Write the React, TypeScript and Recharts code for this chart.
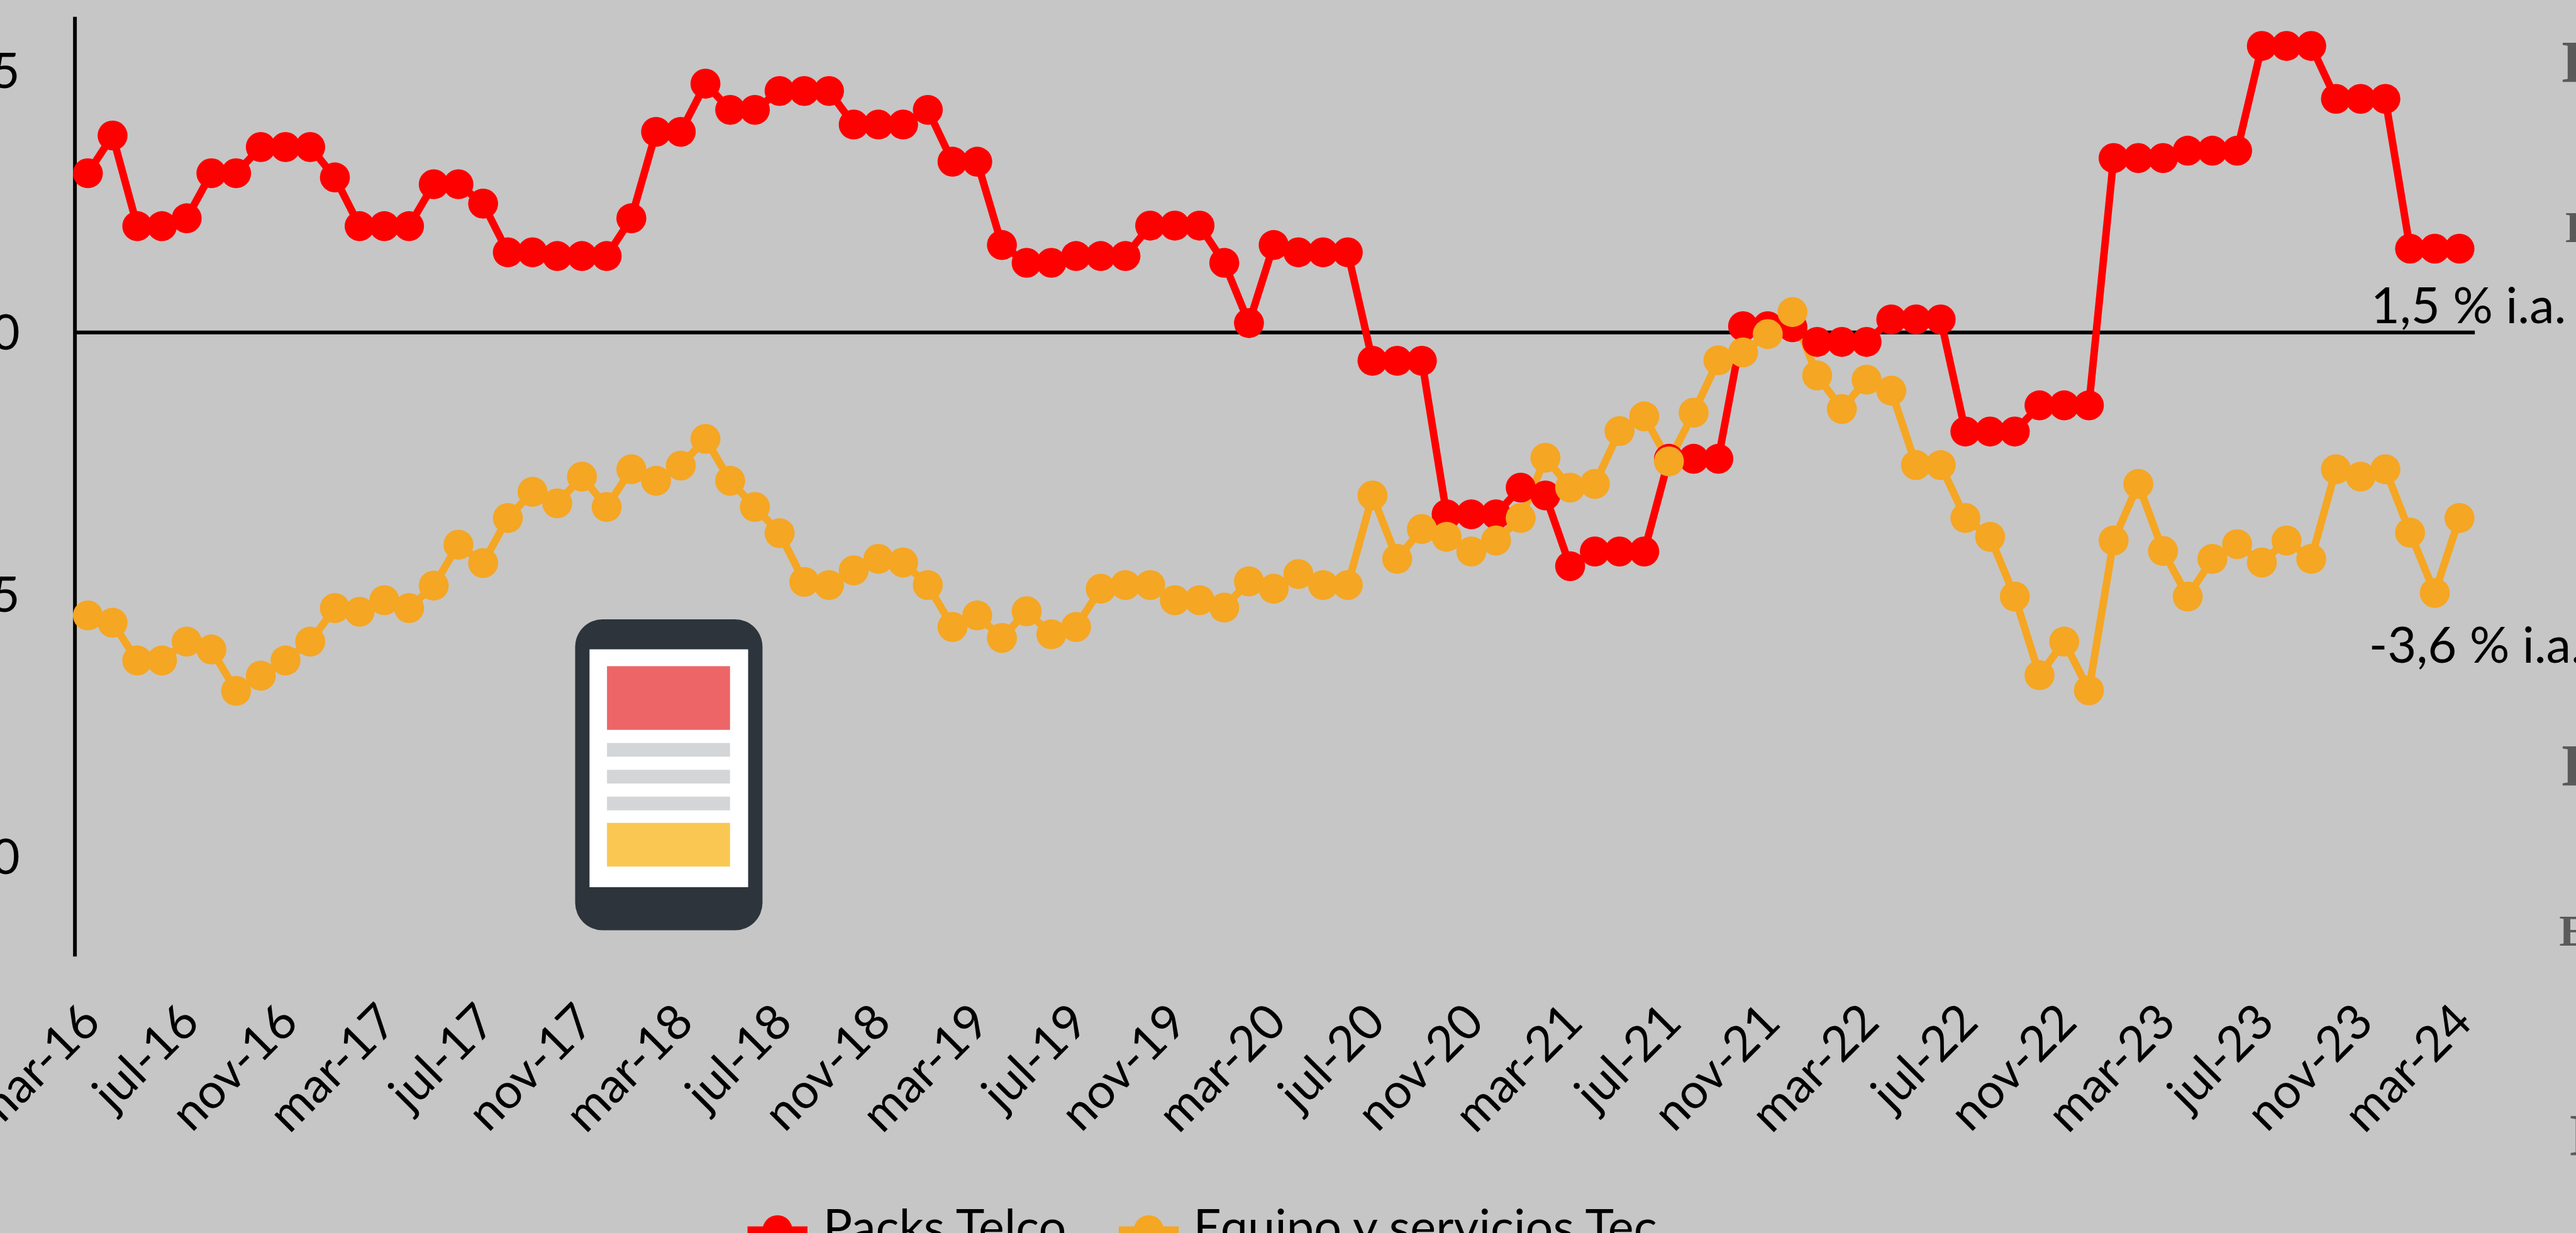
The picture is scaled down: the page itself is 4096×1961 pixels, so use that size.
import React from "react";
import { LineChart, Line, XAxis, YAxis, ReferenceLine, Legend } from "recharts";

const W = 4096;
const H = 1961;
const S = W / 4125;
const FONT = "Lato";
const FS = 78 * S;

const months = [
  "mar-16", "abr-16", "may-16", "jun-16", "jul-16", "ago-16", "sep-16", "oct-16", "nov-16", "dic-16",
  "ene-17", "feb-17", "mar-17", "abr-17", "may-17", "jun-17", "jul-17", "ago-17", "sep-17", "oct-17", "nov-17", "dic-17",
  "ene-18", "feb-18", "mar-18", "abr-18", "may-18", "jun-18", "jul-18", "ago-18", "sep-18", "oct-18", "nov-18", "dic-18",
  "ene-19", "feb-19", "mar-19", "abr-19", "may-19", "jun-19", "jul-19", "ago-19", "sep-19", "oct-19", "nov-19", "dic-19",
  "ene-20", "feb-20", "mar-20", "abr-20", "may-20", "jun-20", "jul-20", "ago-20", "sep-20", "oct-20", "nov-20", "dic-20",
  "ene-21", "feb-21", "mar-21", "abr-21", "may-21", "jun-21", "jul-21", "ago-21", "sep-21", "oct-21", "nov-21", "dic-21",
  "ene-22", "feb-22", "mar-22", "abr-22", "may-22", "jun-22", "jul-22", "ago-22", "sep-22", "oct-22", "nov-22", "dic-22",
  "ene-23", "feb-23", "mar-23", "abr-23", "may-23", "jun-23", "jul-23", "ago-23", "sep-23", "oct-23", "nov-23", "dic-23",
  "ene-24", "feb-24", "mar-24",
];

const packsTelco = [
  3.04, 3.76, 2.03, 2.03, 2.18, 3.04, 3.04, 3.54, 3.54, 3.54,
  2.96, 2.03, 2.03, 2.03, 2.83, 2.83, 2.46, 1.53, 1.53, 1.46,
  1.46, 1.46, 2.18, 3.83, 3.83, 4.75, 4.25, 4.25, 4.61, 4.61,
  4.61, 3.97, 3.97, 3.97, 4.25, 3.26, 3.26, 1.67, 1.33, 1.33,
  1.46, 1.46, 1.46, 2.04, 2.04, 2.04, 1.33, 0.18, 1.67, 1.53,
  1.53, 1.53, -0.54, -0.54, -0.54, -3.47, -3.47, -3.47, -2.96, -3.11,
  -4.46, -4.18, -4.18, -4.18, -2.41, -2.41, -2.41, 0.12, 0.12, 0.1,
  -0.18, -0.18, -0.18, 0.25, 0.25, 0.25, -1.89, -1.89, -1.89, -1.39,
  -1.39, -1.39, 3.33, 3.33, 3.33, 3.47, 3.47, 3.47, 5.47, 5.47,
  5.47, 4.46, 4.46, 4.46, 1.6, 1.6, 1.6,
];

const equipoTec = [
  -5.4, -5.54, -6.26, -6.26, -5.9, -6.05, -6.84, -6.55, -6.26, -5.9,
  -5.26, -5.33, -5.11, -5.26, -4.83, -4.05, -4.4, -3.54, -3.04, -3.26,
  -2.75, -3.33, -2.61, -2.83, -2.54, -2.03, -2.83, -3.33, -3.83, -4.76,
  -4.82, -4.54, -4.32, -4.39, -4.82, -5.62, -5.4, -5.83, -5.32, -5.76,
  -5.62, -4.89, -4.82, -4.82, -5.11, -5.11, -5.25, -4.75, -4.89, -4.61,
  -4.82, -4.82, -3.11, -4.32, -3.75, -3.9, -4.18, -3.97, -3.54, -2.39,
  -2.96, -2.89, -1.88, -1.6, -2.46, -1.53, -0.53, -0.38, -0.03, 0.39,
  -0.82, -1.46, -0.9, -1.11, -2.53, -2.53, -3.54, -3.9, -5.04, -6.54,
  -5.9, -6.83, -3.97, -2.89, -4.17, -5.04, -4.32, -4.04, -4.39, -3.97,
  -4.32, -2.61, -2.75, -2.61, -3.82, -4.97, -3.54,
];

const yTicks = [5, 0, -5, -10];
const seriesNames = ["Packs Telco", "Equipo y servicios Tec"];
const seriesColors = ["#ff0000", "#f5a623"];
const endLabels = ["1,5 % i.a.", "-3,6 % i.a."];

const rows = months.map((month, i) => ({ month, packs: packsTelco[i], equipo: equipoTec[i] }));
const lastIndex = months.length - 1;

function MonthTick({ x, payload }: any) {
  const bx = x + 24 * S;
  const by = 1641 * S;
  return (
    <text x={bx} y={by} textAnchor="end" fontFamily={FONT} fontSize={FS} fill="#000" transform={`rotate(-45 ${bx} ${by})`}>
      {payload.value}
    </text>
  );
}

function endLabel(text: string, dx: number, dy: number) {
  return (props: any) => {
    if (props.index !== lastIndex) return null;
    const px = props.x ?? props.viewBox?.x;
    const py = props.y ?? props.viewBox?.y;
    return (
      <text x={px + dx * S} y={py + dy * S} fontFamily={FONT} fontSize={80 * S} fill="#000">
        {text}
      </text>
    );
  };
}

function LegendRow() {
  const markerX = [1197, 1791.5];
  const textX = [1318, 1911];
  return (
    <svg width={W} height={60} style={{ position: "absolute", left: 0, top: 1900 * S, overflow: "visible" }}>
      {seriesNames.map((name, i) => {
        const mx = markerX[i] * S;
        const ly = 70 * S;
        return (
          <g key={name}>
            <line x1={mx} x2={mx + 96 * S} y1={ly} y2={ly} stroke={seriesColors[i]} strokeWidth={12 * S} />
            <circle cx={mx + 48 * S} cy={ly} r={24 * S} fill={seriesColors[i]} />
            <text x={textX[i] * S} y={93 * S} fontFamily={FONT} fontSize={FS} fill="#000">
              {name}
            </text>
          </g>
        );
      })}
    </svg>
  );
}

function Phone() {
  const r = (x0: number, y0: number, x1: number, y1: number, fill: string, rx = 0) => (
    <rect x={x0 * S} y={y0 * S} width={(x1 - x0) * S} height={(y1 - y0) * S} rx={rx * S} fill={fill} />
  );
  return (
    <g>
      {r(921, 992, 1221, 1490, "#2d343b", 44)}
      {r(944, 1040, 1198, 1421, "#ffffff")}
      {r(972, 1067, 1169, 1169, "#ed6567")}
      {r(972, 1190, 1169, 1212, "#d4d5d7")}
      {r(972, 1233, 1169, 1255, "#d4d5d7")}
      {r(972, 1276, 1169, 1298, "#d4d5d7")}
      {r(972, 1318, 1169, 1388, "#fac852")}
    </g>
  );
}

// clipped fragments of the text that runs off the right edge
const edgeMarks = [
  { x: 4102, y: 132, size: 95 },
  { x: 4108, y: 388, size: 70 },
  { x: 4102, y: 1259, size: 95 },
  { x: 4098, y: 1515, size: 70 },
  { x: 4115, y: 1851, size: 95 },
];

export default function App() {
  return (
    <div style={{ position: "absolute", left: 0, top: 0, width: W, height: H, overflow: "hidden", background: "#c6c6c6" }}>
      <LineChart width={W} height={H} data={rows} margin={{ top: 27 * S, right: W - 3963 * S, bottom: 0, left: 0 }}>
        <XAxis
          dataKey="month"
          interval={3}
          axisLine={false}
          tickLine={false}
          height={H - 1532 * S}
          padding={{ left: 20.7 * S, right: 24.6 * S }}
          tick={<MonthTick />}
        />
        <YAxis
          domain={[-11.91, 6.025]}
          ticks={yTicks}
          width={120 * S}
          tickSize={0}
          tickMargin={88 * S}
          axisLine={{ stroke: "#000", strokeWidth: 6 * S }}
          tickLine={false}
          tick={{ fontFamily: FONT, fontSize: FS, fill: "#000" }}
        />
        <ReferenceLine y={0} stroke="#000" strokeWidth={6 * S} />
        <Line
          dataKey="packs"
          name={seriesNames[0]}
          stroke={seriesColors[0]}
          strokeWidth={12 * S}
          dot={{ r: 24 * S, fill: seriesColors[0], stroke: "none" }}
          activeDot={false}
          label={endLabel(endLabels[0], -142, 119)}
          isAnimationActive={false}
        />
        <Line
          dataKey="equipo"
          name={seriesNames[1]}
          stroke={seriesColors[1]}
          strokeWidth={12 * S}
          dot={{ r: 24 * S, fill: seriesColors[1], stroke: "none" }}
          activeDot={false}
          label={endLabel(endLabels[1], -145, 232)}
          isAnimationActive={false}
        />
        <Legend content={<LegendRow />} wrapperStyle={{ left: 0, top: 0, width: 0, height: 0 }} />
      </LineChart>
      <svg width={W} height={H} style={{ position: "absolute", left: 0, top: 0, pointerEvents: "none" }}>
        <Phone />
        {edgeMarks.map((m) => (
          <text key={m.y} x={m.x * S} y={m.y * S} fontFamily="Liberation Serif" fontWeight="bold" fontSize={m.size * S} fill="#5a5a5a">
            E
          </text>
        ))}
      </svg>
    </div>
  );
}
